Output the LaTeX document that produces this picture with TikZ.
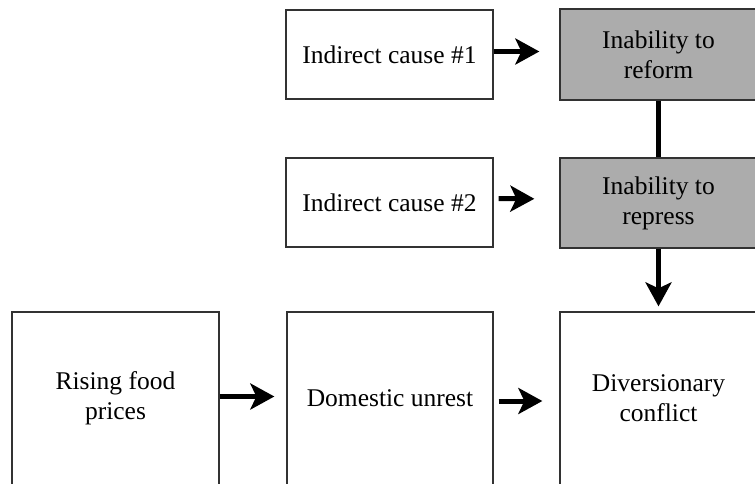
\documentclass[tikz,border=0pt]{standalone}
\usepackage{fontspec}
\setmainfont{Liberation Serif}
\usetikzlibrary{arrows.meta}
\definecolor{boxgray}{RGB}{172,172,172}
\definecolor{edge}{RGB}{50,50,50}
\begin{document}
\begin{tikzpicture}[x=1pt,y=-1pt,
  box/.style={draw=edge, line width=1.3pt, rectangle, align=center, inner sep=0pt,
    font=\fontsize{25.5}{30}\selectfont, text=black},
  shaded/.style={box, fill=boxgray},
  arr/.style={line width=5pt, -{Stealth[length=24pt,width=26pt,inset=6pt]}},
  link/.style={line width=5pt}]
\useasboundingbox (0,0) rectangle (755,483);
\node[box, minimum width=207pt, minimum height=89pt] (ic1) at (389.5,54.5) {Indirect cause \#1};
\node[shaded, minimum width=197pt, minimum height=91pt] (ref) at (658.5,54.5) {Inability to\\reform};
\node[box, minimum width=207pt, minimum height=89pt] (ic2) at (389.5,202.5) {Indirect cause \#2};
\node[shaded, minimum width=197pt, minimum height=90pt] (rep) at (658.5,203) {Inability to\\repress};
\node[box, minimum width=207pt, minimum height=173pt] (rfp) at (115.5,398.5) {Rising food\\prices};
\node[box, minimum width=206pt, minimum height=173pt] (du) at (390,398.5) {Domestic unrest};
\node[box, minimum width=197pt, minimum height=173pt] (dc) at (658.5,398.5) {Diversionary\\conflict};
\draw[arr, shorten >=20pt] ([yshift=3pt]ic1.east) -- ([yshift=3pt]ref.west);
\draw[arr, shorten <=5pt, shorten >=25pt] ([yshift=4pt]ic2.east) -- ([yshift=4pt]rep.west);
\draw[link] (ref.south) -- (rep.north);
\draw[arr, shorten >=5pt] (rep.south) -- (dc.north);
\draw[arr, shorten >=12pt] ([yshift=2pt]rfp.east) -- ([yshift=2pt]du.west);
\draw[arr, shorten <=5pt, shorten >=17pt] ([yshift=-2.5pt]du.east) -- ([yshift=-2.5pt]dc.west);
\end{tikzpicture}
\end{document}
